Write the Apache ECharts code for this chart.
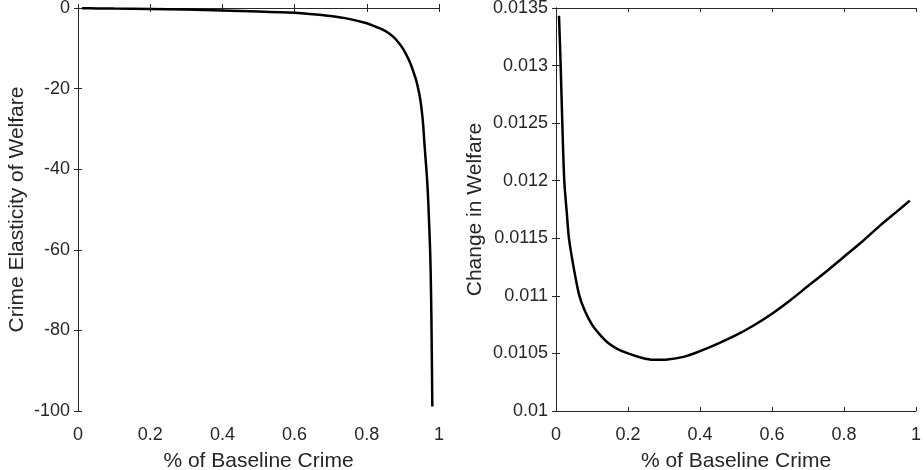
<!DOCTYPE html>
<html>
<head>
<meta charset="utf-8">
<script src="https://cdn.jsdelivr.net/npm/echarts@6/dist/echarts.min.js"></script>
<style>
  html, body { margin: 0; padding: 0; background: #fff; }
  #main { width: 924px; height: 470px; }
</style>
</head>
<body>
<div id="main"></div>
<script>
// left panel: crime elasticity of welfare
var elastX = [0.011, 0.05, 0.1, 0.2, 0.3, 0.4, 0.5, 0.6, 0.65, 0.7, 0.75, 0.8, 0.82, 0.84, 0.86, 0.875, 0.89, 0.9, 0.91, 0.92, 0.929, 0.937, 0.943, 0.948, 0.952, 0.956, 0.959, 0.962, 0.965, 0.968, 0.970, 0.972, 0.975, 0.977, 0.979, 0.9815];
var elastY = [-0.05, -0.1, -0.15, -0.25, -0.4, -0.6, -0.85, -1.2, -1.55, -2.0, -2.7, -3.8, -4.5, -5.2, -6.2, -7.3, -8.8, -10.1, -11.7, -13.6, -15.8, -18.0, -20.3, -22.6, -25.3, -28.8, -32.8, -36.5, -40.0, -44.0, -47.6, -52, -59, -65.8, -77, -98.9];

// right panel: change in welfare
var welfX = [0.0083, 0.013, 0.0175, 0.023, 0.03, 0.036, 0.05, 0.065, 0.08, 0.1, 0.12, 0.145, 0.17, 0.2, 0.235, 0.27, 0.31, 0.354, 0.4, 0.45, 0.5, 0.55, 0.6, 0.65, 0.7, 0.75, 0.8, 0.85, 0.9, 0.95, 0.983];
var welfY = [0.013433, 0.0130, 0.0125, 0.0120, 0.01172, 0.0115, 0.01123, 0.0110, 0.01087, 0.01075, 0.01067, 0.01059, 0.01054, 0.0105, 0.010465, 0.010445, 0.010448, 0.01047, 0.01052, 0.010585, 0.010658, 0.010745, 0.010845, 0.01096, 0.011085, 0.01121, 0.01134, 0.01147, 0.01161, 0.01174, 0.011827];

var xTicks = [0, 0.2, 0.4, 0.6, 0.8, 1];

var axColor = '#262626';
var fontFam = '"Liberation Sans", Arial, sans-serif';

function pairs(xs, ys) {
    return xs.map(function (x, i) { return [x, ys[i]]; });
}

function xAx(gi, pos, withLabel) {
    return {
        type: 'value', gridIndex: gi, position: pos,
        min: xTicks[0], max: xTicks[xTicks.length - 1], interval: xTicks[1] - xTicks[0],
        axisLine: { show: true, lineStyle: { color: axColor, width: 1 } },
        axisTick: { show: true, inside: true, length: 4, lineStyle: { color: axColor } },
        axisLabel: {
            show: withLabel, color: axColor, fontSize: 18, fontFamily: fontFam, margin: 15,
            formatter: function (v) { return String(parseFloat(v.toFixed(1))); }
        },
        splitLine: { show: false },
        name: withLabel ? '% of Baseline Crime' : '',
        nameLocation: 'middle', nameGap: 40,
        nameTextStyle: { color: axColor, fontSize: 21, fontFamily: fontFam }
    };
}

function yAx(gi, pos, withLabel, min, max, step, name, gap, dec) {
    return {
        type: 'value', gridIndex: gi, position: pos, min: min, max: max, interval: step,
        axisLine: { show: true, lineStyle: { color: axColor, width: 1 } },
        axisTick: { show: true, inside: true, length: 4, lineStyle: { color: axColor } },
        axisLabel: {
            show: withLabel, color: axColor, fontSize: 18, fontFamily: fontFam, margin: 8,
            formatter: function (v) { return String(parseFloat(v.toFixed(dec))); }
        },
        splitLine: { show: false },
        name: withLabel ? name : '',
        nameLocation: 'middle', nameGap: gap,
        nameTextStyle: { color: axColor, fontSize: 21, fontFamily: fontFam }
    };
}

var chart = echarts.init(document.getElementById('main'));
chart.setOption({
    backgroundColor: '#fff',
    animation: false,
    grid: [
        { left: 78, top: 8, width: 361, height: 403, outerBoundsMode: 'none', containLabel: false },
        { left: 556, top: 8, width: 360, height: 403, outerBoundsMode: 'none', containLabel: false }
    ],
    xAxis: [
        xAx(0, 'bottom', true), xAx(0, 'top', false),
        xAx(1, 'bottom', true), xAx(1, 'top', false)
    ],
    yAxis: [
        yAx(0, 'left', true, -100, 0, 20, 'Crime Elasticity of Welfare', 50, 0),
        yAx(0, 'right', false, -100, 0, 20, '', 0, 0),
        yAx(1, 'left', true, 0.01, 0.0135, 0.0005, 'Change in Welfare', 70, 4),
        yAx(1, 'right', false, 0.01, 0.0135, 0.0005, '', 0, 4)
    ],
    series: [
        {
            type: 'line', xAxisIndex: 0, yAxisIndex: 0, data: pairs(elastX, elastY),
            showSymbol: false, smooth: 0.3,
            lineStyle: { color: '#000', width: 2.5 }
        },
        {
            type: 'line', xAxisIndex: 2, yAxisIndex: 2, data: pairs(welfX, welfY),
            showSymbol: false, smooth: 0.3,
            lineStyle: { color: '#000', width: 2.5 }
        }
    ]
});
</script>
</body>
</html>
